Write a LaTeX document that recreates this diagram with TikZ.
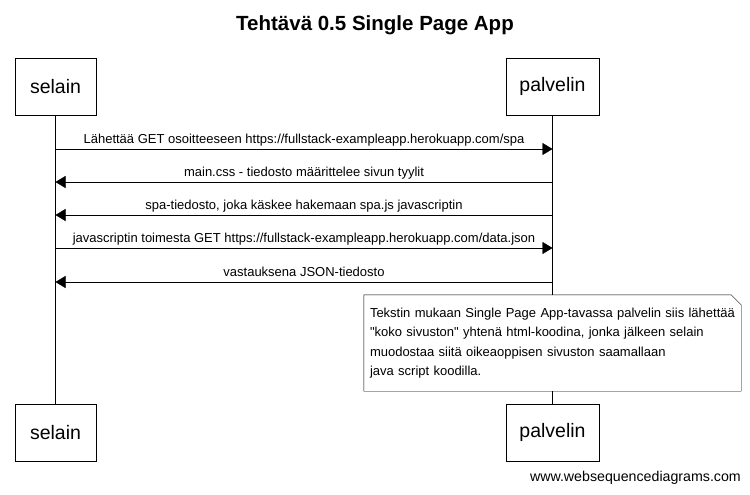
\documentclass[tikz,border=0pt]{standalone}
\usepackage{fontspec}
\setmainfont{Liberation Sans}[Ligatures=TeXOff]
\usetikzlibrary{arrows.meta}
\tikzstyle{actor} = [rectangle, draw=black, minimum height=57pt, inner sep=0pt, font=\fontsize{19.5}{22}\selectfont]
\tikzstyle{lifeline} = [draw=black]
\tikzstyle{msg} = [draw=black, -{Triangle[length=10pt,width=12pt]}]
\tikzstyle{lbl} = [font=\fontsize{13}{15}\selectfont, anchor=base, inner sep=0pt, yshift=6pt]
\tikzstyle{notebox} = [minimum width=377pt, minimum height=96pt, text width=365pt, inner xsep=6pt, align=left, font=\fontsize{13}{19.5}\selectfont]

\begin{document}
\begin{tikzpicture}[x=1pt, y=-1pt]
\useasboundingbox (0,0) rectangle (750,495);

%% NODES
\node (title) at (375,25) {\fontsize{20.5}{22}\selectfont\bfseries Tehtävä 0.5 Single Page App};
\node (selain) [actor, minimum width=81pt] at (55.5,86.5) {selain};
\node (palvelin) [actor, minimum width=93pt] at (552.5,86.5) {palvelin};
\node (selainb) [actor, minimum width=81pt] at (55.5,432.5) {selain};
\node (palvelinb) [actor, minimum width=93pt] at (552.5,432.5) {palvelin};
\node (note) [notebox] at (552.5,343) {Tekstin mukaan Single Page App-tavassa palvelin siis lähettää\\"koko sivuston" yhtenä html-koodina, jonka jälkeen selain\\muodostaa siitä oikeaoppisen sivuston saamallaan\\java script koodilla.};
\node (footer) [anchor=east, inner sep=0pt, font=\fontsize{14.2}{16}\selectfont] at (741,478) {www.websequencediagrams.com};

\coordinate (s1) at (55.5,149);  \coordinate (p1) at (552.5,149);
\coordinate (s2) at (55.5,182);  \coordinate (p2) at (552.5,182);
\coordinate (s3) at (55.5,215);  \coordinate (p3) at (552.5,215);
\coordinate (s4) at (55.5,248);  \coordinate (p4) at (552.5,248);
\coordinate (s5) at (55.5,282);  \coordinate (p5) at (552.5,282);

%% NOTE OUTLINE
\draw ([xshift=-10pt]note.north east) -- (note.north west) -- (note.south west) -- (note.south east) -- ([yshift=-10pt]note.north east) -- cycle;

%% LIFELINES
\draw [lifeline] (selain) -- (selainb);
\draw [lifeline] (palvelin) -- (note);
\draw [lifeline] (note) -- (palvelinb);

%% ARROWS
\draw [msg] (s1) -- node[lbl] {Lähettää GET osoitteeseen https://fullstack-exampleapp.herokuapp.com/spa} (p1);
\draw [msg] (p2) -- node[lbl] {main.css - tiedosto määrittelee sivun tyylit} (s2);
\draw [msg] (p3) -- node[lbl] {spa-tiedosto, joka käskee hakemaan spa.js javascriptin} (s3);
\draw [msg] (s4) -- node[lbl] {javascriptin toimesta GET https://fullstack-exampleapp.herokuapp.com/data.json} (p4);
\draw [msg] (p5) -- node[lbl] {vastauksena JSON-tiedosto} (s5);
\end{tikzpicture}
\end{document}
